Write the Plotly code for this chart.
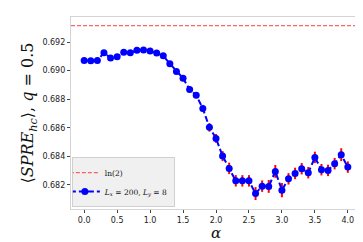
import plotly.graph_objects as go
import numpy as np

alpha = [0.0, 0.1, 0.2, 0.3, 0.4, 0.5, 0.6, 0.7, 0.8, 0.9, 1.0,
         1.1, 1.2, 1.3, 1.4, 1.5, 1.6, 1.7, 1.8, 1.9, 2.0,
         2.1, 2.2, 2.3, 2.4, 2.5, 2.6, 2.7, 2.8, 2.9, 3.0,
         3.1, 3.2, 3.3, 3.4, 3.5, 3.6, 3.7, 3.8, 3.9, 4.0]
spre = [0.69071, 0.69069, 0.69071, 0.69125, 0.69088, 0.69097, 0.69128, 0.69125, 0.69142, 0.69144, 0.69137,
        0.69123, 0.69104, 0.69048, 0.68994, 0.68947, 0.68868, 0.68828, 0.68735, 0.68603, 0.68526,
        0.68402, 0.68316, 0.68229, 0.68229, 0.68229, 0.68140, 0.68192, 0.68190, 0.68295, 0.68164,
        0.68243, 0.68281, 0.68314, 0.68286, 0.68393, 0.68307, 0.68302, 0.68349, 0.68412, 0.68325]
err = [0.0001, 0.0001, 0.0001, 0.0001, 0.0001, 0.0001, 0.0001, 0.0001, 0.0001, 0.0001, 0.0001,
       0.0001, 0.0001, 0.00012, 0.00013, 0.00015, 0.00018, 0.0002, 0.00025, 0.0003, 0.0003,
       0.00035, 0.0004, 0.0004, 0.0004, 0.0004, 0.00045, 0.0004, 0.00045, 0.00045, 0.0005,
       0.0004, 0.0004, 0.0004, 0.0004, 0.0004, 0.0004, 0.0004, 0.0004, 0.00045, 0.0004]
ln2 = float(np.log(2))
x_ticks = [0.0, 0.5, 1.0, 1.5, 2.0, 2.5, 3.0, 3.5, 4.0]
y_ticks = [0.682, 0.684, 0.686, 0.688, 0.690, 0.692]

fig = go.Figure()
fig.add_trace(go.Scatter(
    x=[-0.2, 4.2], y=[ln2, ln2], mode="lines",
    line=dict(color="rgba(255,0,0,0.6)", width=1.2, dash="4px,2px"),
    name="ln(2)"))
fig.add_trace(go.Scatter(
    x=alpha, y=spre, mode="lines+markers",
    line=dict(color="#0000ff", width=2, dash="6px,3px"),
    marker=dict(color="#0000ff", size=7),
    error_y=dict(type="data", array=err, color="#ff0000", thickness=2, width=0),
    name="<i>L<sub>x</sub></i> = 200, <i>L<sub>y</sub></i> = 8"))

axis_common = dict(showline=True, linecolor="#d4d4d4", linewidth=1.2, mirror=True,
                   ticks="outside", ticklen=3, tickcolor="#444", showgrid=False,
                   zeroline=False, tickfont=dict(family="DejaVu Sans", size=8, color="#222"))
fig.update_xaxes(range=[-0.2, 4.2], tickvals=x_ticks, ticktext=[f"{v:.1f}" for v in x_ticks],
                 **axis_common)
fig.update_yaxes(range=[0.68032, 0.69375], tickvals=y_ticks, ticktext=[f"{v:.3f}" for v in y_ticks],
                 title=dict(text="⟨<i>SPRE</i><sub><i>hc</i></sub>⟩, <i>q</i> = 0.5",
                            font=dict(family="DejaVu Serif", size=16, color="#111"), standoff=4),
                 **axis_common)
fig.add_annotation(text="<i>α</i>", xref="paper", yref="paper", x=0.5, y=-0.125,
                   showarrow=False, xanchor="center", yanchor="middle",
                   font=dict(family="DejaVu Serif", size=15, color="#111"))
fig.update_layout(
    width=363, height=242,
    margin=dict(l=63, r=10, t=9, b=41),
    plot_bgcolor="white", paper_bgcolor="white",
    showlegend=True,
    legend=dict(x=0.003, y=0.01, xanchor="left", yanchor="bottom",
                bgcolor="rgba(238,238,238,0.9)", bordercolor="#d0d0d0", borderwidth=1,
                font=dict(family="DejaVu Serif", size=7.5, color="#111"),
                itemwidth=30, tracegroupgap=0, indentation=-8),
)
fig.write_html("out.html")
